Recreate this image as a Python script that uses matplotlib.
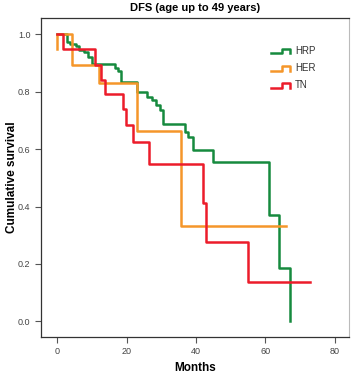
import matplotlib
matplotlib.use('Agg')
import matplotlib.pyplot as plt
from matplotlib.lines import Line2D
from matplotlib.legend_handler import HandlerBase

plt.rcParams.update({
    'font.family': ['Liberation Sans', 'DejaVu Sans'],
    'font.size': 7,
})

# Kaplan-Meier step data
hrp_months = [0, 2.7, 3.7, 5.3, 6.3, 7.8, 8.9, 9.9, 16.6, 17.6, 18.5, 22.9, 25.8,
              27.2, 28.6, 29.6, 30.5, 36.8, 37.8, 39.2, 45.0, 61.0, 64.0, 67.1]
hrp_surv = [1.0, 0.972, 0.965, 0.957, 0.945, 0.937, 0.922, 0.896, 0.882, 0.87, 0.832,
            0.797, 0.782, 0.77, 0.753, 0.736, 0.687, 0.66, 0.643, 0.596, 0.554,
            0.37, 0.185, 0.0]

her_months = [0, 0, 4.1, 12.1, 22.9, 35.8, 65.9]
her_surv = [0.947, 1.0, 0.892, 0.83, 0.663, 0.332, 0.332]

tn_months = [0, 1.7, 10.9, 12.6, 13.7, 18.8, 19.8, 21.7, 26.5, 42.1, 42.9, 55.0, 72.8]
tn_surv = [1.0, 0.947, 0.892, 0.84, 0.792, 0.738, 0.683, 0.625, 0.548, 0.411,
           0.278, 0.136, 0.136]

groups = ['HRP', 'HER', 'TN']
colors = ['#168a3e', '#f5962a', '#ec1c2a']


class StepHandler(HandlerBase):
    # little step symbol used as legend key
    def create_artists(self, legend, orig_handle, xdescent, ydescent,
                       width, height, fontsize, trans):
        x0, x1 = -xdescent, -xdescent + width
        y0, y1 = -ydescent + 0.1 * height, -ydescent + 0.75 * height
        xm = x0 + 0.6 * width
        ln = Line2D([x0, xm, xm, x1, x1], [y0, y0, y1, y1, y0],
                    color=orig_handle.get_color(),
                    lw=orig_handle.get_linewidth(), transform=trans)
        return [ln]


fig = plt.figure(figsize=(3.51, 3.80), dpi=100)
ax = fig.add_axes([0.1168, 0.1132, 0.8775, 0.8394])

handles = []
for t, s, name, c in zip([hrp_months, her_months, tn_months],
                         [hrp_surv, her_surv, tn_surv], groups, colors):
    h, = ax.step(t, s, where='post', color=c, lw=1.8, label=name)
    handles.append(h)

ax.set_xlim(-4.7, 84.1)
ax.set_ylim(-0.054, 1.056)
ax.set_xticks([0, 20, 40, 60, 80])
ax.set_yticks([0.0, 0.2, 0.4, 0.6, 0.8, 1.0])
ax.set_yticklabels([f'{v:.1f}' for v in [0.0, 0.2, 0.4, 0.6, 0.8, 1.0]])
ax.tick_params(direction='out', length=4, width=0.8, colors='#555555',
               labelsize=6.5, labelcolor='#444444')

for side in ['left', 'bottom', 'top']:
    ax.spines[side].set_color('#333333')
    ax.spines[side].set_linewidth(0.9)
ax.spines['right'].set_color('#bbbbbb')
ax.spines['right'].set_linewidth(0.8)

ax.set_xlabel('Months', fontsize=8.5, fontweight='bold')
ax.set_ylabel('Cumulative survival', fontsize=8.5, fontweight='bold')
ax.xaxis.set_label_coords(0.5, -0.078)
ax.yaxis.set_label_coords(-0.076, 0.5)
ax.set_title('DFS (age up to 49 years)', fontsize=8, fontweight='bold', pad=5)

ax.legend(handles=handles, labels=groups, handler_map={Line2D: StepHandler()},
          loc='upper right', bbox_to_anchor=(0.92, 0.94), frameon=False,
          fontsize=7, handlelength=2.0, handletextpad=0.5, labelspacing=0.75,
          labelcolor='#333333')

fig.savefig('out.png', dpi=100)
